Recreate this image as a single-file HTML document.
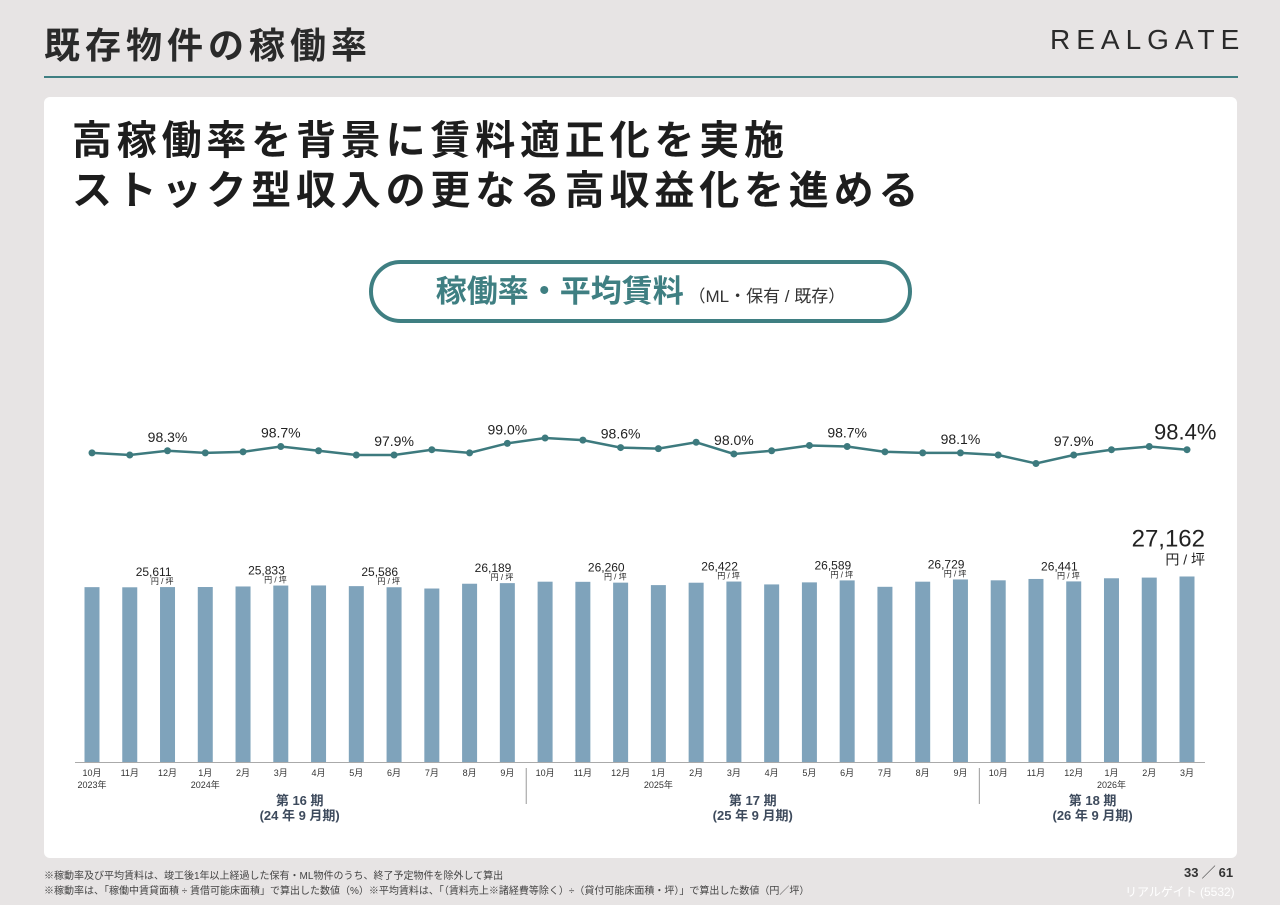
<!DOCTYPE html>
<html><head><meta charset="utf-8"><style>
body{margin:0;width:1280px;height:905px;background:#e7e4e4;font-family:"Liberation Sans","Noto Sans CJK JP",sans-serif;position:relative;overflow:hidden;color:#222}
.abs{position:absolute}
</style></head><body>
<div class="abs" style="left:44px;top:17px;font-size:36px;font-weight:bold;letter-spacing:5px;color:#2a2a2a">既存物件の稼働率</div>
<div class="abs" style="left:1050px;top:24px;font-size:28px;letter-spacing:6px;color:#2a2a2a">REALGATE</div>
<div class="abs" style="left:44px;top:76px;width:1194px;height:2px;background:#3f7f82"></div>
<div class="abs" style="left:44px;top:97px;width:1193px;height:761px;background:#fff;border-radius:6px"></div>
<div class="abs" style="left:72px;top:116px;font-size:40px;font-weight:bold;line-height:50px;letter-spacing:4.8px;color:#1d1d1d">高稼働率を背景に賃料適正化を実施<br>ストック型収入の更なる高収益化を進める</div>
<div class="abs" style="left:369px;top:260px;width:535px;height:55px;border:4px solid #3f7f82;border-radius:32px;text-align:center;line-height:55px;color:#3f7f82;font-weight:bold;font-size:31px">稼働率・平均賃料<span style="font-size:17px;font-weight:normal;color:#333"> （ML・保有 / 既存）</span></div>
<svg class="abs" style="left:0;top:0" width="1280" height="905" id="chart"></svg>
<div class="abs" style="left:44px;top:867px;font-size:10px;color:#444">※稼動率及び平均賃料は、竣工後1年以上経過した保有・ML物件のうち、終了予定物件を除外して算出</div>
<div class="abs" style="left:44px;top:882px;font-size:10px;color:#444">※稼動率は、「稼働中賃貸面積 ÷ 賃借可能床面積」で算出した数値（%）※平均賃料は、「（賃料売上※諸経費等除く）÷（貸付可能床面積・坪）」で算出した数値（円／坪）</div>
<div class="abs" style="left:1184px;top:862px;font-size:13px;font-weight:bold;color:#333">33 ╱ 61</div>
<div class="abs" style="left:1125px;top:883px;font-size:12px;color:#fff">リアルゲイト (5532)</div>
<script>
const months=["10月","11月","12月","1月","2月","3月","4月","5月","6月","7月","8月","9月","10月","11月","12月","1月","2月","3月","4月","5月","6月","7月","8月","9月","10月","11月","12月","1月","2月","3月"];
const occupancy=[98.1,97.9,98.3,98.1,98.2,98.7,98.3,97.9,97.9,98.4,98.1,99.0,99.5,99.3,98.6,98.5,99.1,98.0,98.3,98.8,98.7,98.2,98.1,98.1,97.9,97.1,97.9,98.4,98.7,98.4];
const rent=[25600,25580,25611,25620,25700,25833,25850,25750,25586,25400,26100,26189,26400,26380,26260,25900,26250,26422,26000,26300,26589,25650,26400,26729,26600,26800,26441,26900,27000,27162];
const labelIdx=[2,5,8,11,14,17,20,23,26,29];
const yearLabels=[[0,"2023年"],[3,"2024年"],[15,"2025年"],[27,"2026年"]];
const periods=[["第 16 期","(24 年 9 月期)"],["第 17 期","(25 年 9 月期)"],["第 18 期","(26 年 9 月期)"]];
const periodRange=[[0,11],[12,23],[24,29]];
const svg=document.getElementById('chart');const NS="http://www.w3.org/2000/svg";
const xS=i=>92+i*(1187-92)/29;
const yRate=v=>455-(v-97.9)*10.6;
const yRent=v=>762-v*0.00683;
function mk(t,a,txt){const e=document.createElementNS(NS,t);for(const k in a)e.setAttribute(k,a[k]);if(txt!=null)e.textContent=txt;svg.appendChild(e);return e;}
const F='"Liberation Sans","Noto Sans CJK JP",sans-serif';
rent.forEach((v,i)=>{const r=mk('rect',{x:xS(i)-7.5,y:yRent(v),width:15,height:762-yRent(v),fill:'#7fa3bb'});

});
const ax=mk('line',{x1:75,x2:1205,y1:762.5,y2:762.5,stroke:'#aaa','stroke-width':1});


const pl=mk('polyline',{points:occupancy.map((v,i)=>xS(i)+','+yRate(v)).join(' '),fill:'none',stroke:'#3d7a7e','stroke-width':2.5});


occupancy.forEach((v,i)=>{const c=mk('circle',{cx:xS(i),cy:yRate(v),r:3.5,fill:'#3d7a7e'});

});
labelIdx.forEach(i=>{const last=i===29;
const t=mk('text',{x:last?xS(i)-33:xS(i),y:yRate(occupancy[i])-(last?10:9),'text-anchor':last?'start':'middle','font-size':last?22:14,'font-family':F,fill:'#222'},occupancy[i].toFixed(1)+'%');


const yb=yRent(rent[i]);
const n=mk('text',{x:last?xS(i)+18:xS(i)+4,y:yb-(last?30:11),'text-anchor':'end','font-size':last?24:12,'font-family':F,fill:'#222'},rent[i].toLocaleString('en-US'));


const u=mk('text',{x:last?xS(i)+18:xS(i)+6,y:yb-(last?12:3),'text-anchor':'end','font-size':last?14:8,'font-family':F,fill:'#222'},'円 / 坪');

});
months.forEach((m,i)=>{const t=mk('text',{x:xS(i),y:776,'text-anchor':'middle','font-size':9,'font-family':F,fill:'#333'},m);

});
yearLabels.forEach(([i,s])=>{const t=mk('text',{x:xS(i),y:788,'text-anchor':'middle','font-size':9,'font-family':F,fill:'#333'},s);

});
[11.5,23.5].forEach(p=>{const l=mk('line',{x1:xS(p),x2:xS(p),y1:768,y2:804,stroke:'#999','stroke-width':1});

});
periods.forEach((p,k)=>{const cx=(xS(periodRange[k][0])+xS(periodRange[k][1]))/2;
const a=mk('text',{x:cx,y:805,'text-anchor':'middle','font-size':13,'font-weight':'bold','font-family':F,fill:'#3d4a5c'},p[0]);


const b=mk('text',{x:cx,y:820,'text-anchor':'middle','font-size':13,'font-weight':'bold','font-family':F,fill:'#3d4a5c'},p[1]);

});
</script>
</body></html>
